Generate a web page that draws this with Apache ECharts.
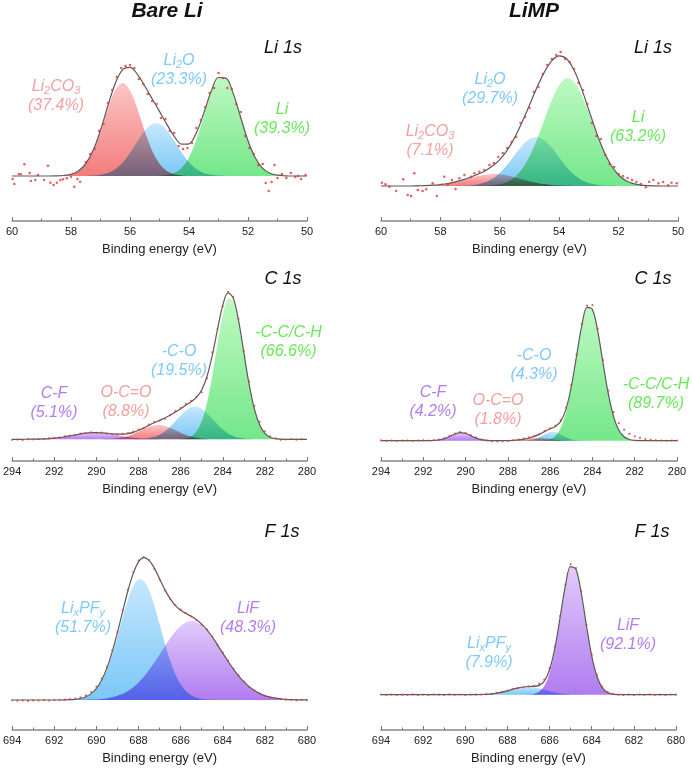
<!DOCTYPE html>
<html><head><meta charset="utf-8">
<script src="https://cdn.jsdelivr.net/npm/echarts@6/dist/echarts.min.js"></script>
<style>html,body{margin:0;padding:0;background:#fff}#c{width:692px;height:769px}</style>
</head><body><div id="c"></div>
<script>
// ---------- energies (binding energy grids, eV) ----------
const liEnergy = [60,59.75,59.5,59.25,59,58.75,58.5,58.25,58,57.75,57.5,57.25,57,56.75,56.5,56.25,56,55.75,55.5,55.25,55,54.75,54.5,54.25,54,53.75,53.5,53.25,53,52.75,52.5,52.25,52,51.75,51.5,51.25,51,50.75,50.5,50.25,50];
const cEnergy = [294,293.75,293.5,293.25,293,292.75,292.5,292.25,292,291.75,291.5,291.25,291,290.75,290.5,290.25,290,289.75,289.5,289.25,289,288.75,288.5,288.25,288,287.75,287.5,287.25,287,286.75,286.5,286.25,286,285.75,285.5,285.25,285,284.75,284.5,284.25,284,283.75,283.5,283.25,283,282.75,282.5,282.25,282,281.75,281.5,281.25,281,280.75,280.5,280.25,280];
const fEnergy = [694,693.75,693.5,693.25,693,692.75,692.5,692.25,692,691.75,691.5,691.25,691,690.75,690.5,690.25,690,689.75,689.5,689.25,689,688.75,688.5,688.25,688,687.75,687.5,687.25,687,686.75,686.5,686.25,686,685.75,685.5,685.25,685,684.75,684.5,684.25,684,683.75,683.5,683.25,683,682.75,682.5,682.25,682,681.75,681.5,681.25,681,680.75,680.5,680.25,680];

// ---------- Bare Li, Li 1s ----------
const bareLi1s_Li2CO3 = [0,0,0,0,0,0,0.1,0.5,1.7,5.0,12.2,25.3,44.7,67.2,85.7,93.0,85.7,67.2,44.7,25.3,12.2,5.0,1.7,0.5,0,0,0,0,0,0,0,0,0,0,0,0,0,0,0,0,0];
const bareLi1s_Li2O = [0,0,0,0,0,0,0,0,0,0,0.1,0.4,1.2,3.0,6.8,13.3,22.9,34.5,45.3,52.0,52.2,45.7,35.0,23.4,13.7,7.0,3.1,1.2,0.4,0.1,0,0,0,0,0,0,0,0,0,0,0];
const bareLi1s_Li = [0,0,0,0,0,0,0,0,0,0,0,0,0,0,0,0,0,0,0,0,0.2,0.9,2.9,8.0,18.5,36.2,59.7,83.2,98.1,97.8,82.4,58.7,35.3,18.0,7.7,2.8,0.9,0.2,0,0,0];
const bareLi1s_Fit = [0,0,0,0,0,0,0.1,0.5,1.7,5.0,12.3,25.7,45.9,70.2,92.5,106.3,108.6,101.7,90.0,77.3,64.6,51.6,39.6,31.9,32.2,43.2,62.8,84.4,98.5,97.9,82.4,58.7,35.3,18.0,7.7,2.8,0.9,0.2,0,0,0];
const bareLi1s_DataE = [59.98,59.92,59.77,59.70,59.58,59.40,59.36,59.21,59.12,58.91,58.78,58.70,58.59,58.48,58.36,58.27,58.14,58.00,57.89,57.78,57.69,57.5,57.35,57.2,57.05,56.9,56.75,56.6,56.45,56.3,56.15,56.0,55.85,55.7,55.55,55.4,55.25,55.1,54.95,54.8,54.65,54.5,54.35,54.2,54.05,53.9,53.75,53.6,53.45,53.3,53.15,53.0,52.85,52.7,52.55,52.4,52.25,52.1,51.95,51.8,51.65,51.5,51.4,51.3,51.2,51.1,51.0,50.85,50.7,50.55,50.4,50.3,50.2,50.05];
const bareLi1s_DataI = [-3,-8,2,1.7,11.7,3,-5,-4,1,-4,10.3,-6.7,-9,-6.7,-4,-3.3,-2.3,-0.7,-10.7,-3,-5.7,14,22,27,45,52,73,86,99,108,110,111,108,97,92,82,75,72,58,57,45,43,30,27,28,33,48,56,69,83,88,103,98,88,87,72,64,40,28,22,11,12,-7,-15,-6,11,-2,2,-2,3,-1,0,-3,1];

// ---------- LiMP, Li 1s ----------
const limpLi1s_Li2CO3 = [0,0,0,0,0,0.2,0.4,0.8,1.5,2.5,4.0,5.9,7.9,9.9,11.3,12.0,11.7,10.5,8.7,6.7,4.7,3.1,1.9,1.0,0.5,0.2,0.1,0,0,0,0,0,0,0,0,0,0,0,0,0,0];
const limpLi1s_Li2O = [0,0,0,0,0,0,0,0,0,0,0.1,0.2,0.6,1.6,3.5,7.2,13.0,21.2,30.9,40.3,46.9,49.0,45.7,38.2,28.5,19.1,11.4,6.1,2.9,1.3,0.5,0.2,0,0,0,0,0,0,0,0,0];
const limpLi1s_Li = [0,0,0,0,0,0,0,0,0,0,0,0,0,0.1,0.2,0.7,1.7,4.2,8.8,17.0,29.4,46.4,66.3,86.0,101.1,107.9,104.3,91.5,72.8,52.6,34.5,20.5,11.0,5.3,2.4,0.9,0.3,0.1,0,0,0];
const limpLi1s_Fit = [0,0,0,0,0,0.2,0.4,0.8,1.5,2.5,4.1,6.1,8.5,11.6,15.0,19.9,26.4,35.9,48.4,64.0,81.0,98.5,113.9,125.2,130.1,127.2,115.8,97.6,75.7,53.9,35.0,20.7,11.0,5.3,2.4,0.9,0.3,0.1,0,0,0];
const limpLi1s_DataE = [59.97,59.85,59.72,59.49,59.25,59.10,58.99,58.88,58.76,58.60,58.48,58.26,58.12,57.87,57.75,57.61,57.49,57.36,57.19,56.97,56.85,56.69,56.52,56.35,56.2,56.05,55.9,55.75,55.6,55.45,55.3,55.15,55.0,54.85,54.7,54.55,54.4,54.25,54.1,53.95,53.8,53.65,53.5,53.35,53.2,53.05,52.9,52.75,52.6,52.45,52.3,52.15,52.0,51.85,51.7,51.55,51.4,51.25,51.08,50.97,50.83,50.66,50.5,50.33,50.22,50.04];
const limpLi1s_DataI = [3.3,1.7,-0.7,-5,6.7,-9,-10,12.7,-4,-5,-3.3,2.7,-10,9.3,1,6,-3,7.7,11,9.3,12.7,14.3,16,21,23,29,33,38,44,49,63,69,78,94,99,112,121,127,131,134,127,124,117,103,96,82,63,50,47,31,22,19,12,10,8,6,4,2,-1.3,4.3,6,2.7,4,0.7,3.3,2.7];

// ---------- Bare Li, C 1s ----------
const bareC1s_CF = [0,0,0,0.1,0.1,0.2,0.4,0.7,1.2,1.8,2.6,3.5,4.4,5.4,6.1,6.6,6.7,6.4,5.8,5.0,4.1,3.1,2.3,1.5,1.0,0.6,0.4,0.2,0.1,0,0,0,0,0,0,0,0,0,0,0,0,0,0,0,0,0,0,0,0,0,0,0,0,0,0,0,0];
const bareC1s_OCO = [0,0,0,0,0,0,0,0,0,0,0,0,0,0,0,0,0,0.1,0.2,0.5,1.1,2.0,3.4,5.4,7.8,10.3,12.5,13.9,14.3,13.4,11.5,9.1,6.6,4.4,2.7,1.5,0.8,0.4,0.1,0,0,0,0,0,0,0,0,0,0,0,0,0,0,0,0,0,0];
const bareC1s_CO = [0,0,0,0,0,0,0,0,0,0,0,0,0,0,0,0,0,0,0,0,0,0,0,0,0.2,0.5,1.2,2.5,4.6,7.9,12.5,18.0,23.7,28.8,32.0,32.6,30.5,26.1,20.5,14.8,9.8,5.9,3.3,1.7,0.8,0.3,0.1,0,0,0,0,0,0,0,0,0,0];
const bareC1s_CC = [0,0,0,0,0,0,0,0,0,0,0,0,0,0,0,0,0,0,0,0,0,0,0,0,0,0,0,0,0,0,0,0.1,0.3,1.0,2.9,7.8,18.0,36.3,63.1,95.1,124.2,140.5,137.7,117.0,86.1,54.8,30.3,14.5,6.0,2.1,0.7,0.2,0,0,0,0,0];
const bareC1s_Fit = [0,0,0,0.1,0.1,0.2,0.4,0.7,1.2,1.8,2.6,3.5,4.4,5.4,6.1,6.6,6.7,6.5,6.0,5.5,5.2,5.1,5.7,6.9,9.0,11.4,14.1,16.6,19.0,21.3,24.0,27.2,30.6,34.2,37.6,41.9,49.3,62.8,83.7,109.9,134.0,146.4,141.0,118.7,86.9,55.1,30.4,14.5,6.0,2.1,0.7,0.2,0,0,0,0,0];
const bareC1s_Data = [-0.5,-0.3,-0.6,0,-0.2,0.3,0.2,0.9,1.5,1.6,2.9,3.8,4.2,5.6,6.3,7.0,6.5,6.8,5.8,5.3,4.9,5.4,6.2,7.6,9.8,11.2,14.8,17.4,18.5,20.5,24.1,28.3,31.2,35.5,38.4,42.5,47.0,61.0,87.0,110.5,133.0,147.5,142.5,120.5,88.5,58.0,33.5,17.5,8.0,3.0,1.0,-0.5,-0.2,0.3,-0.4,0.1,null];

// ---------- LiMP, C 1s ----------
const limpC1s_CF = [0,0,0,0,0,0,0,0,0,0,0.2,0.8,2.1,4.3,6.7,8.0,7.2,5.0,2.6,1.0,0.3,0.1,0,0,0,0,0,0,0,0,0,0,0,0,0,0,0,0,0,0,0,0,0,0,0,0,0,0,0,0,0,0,0,0,0,0,0];
const limpC1s_OCO = [0,0,0,0,0,0,0,0,0,0,0,0,0,0,0,0,0,0,0,0,0,0,0,0,0.1,0.3,0.8,1.5,2.3,2.9,3.0,2.5,1.7,0.9,0.4,0.1,0,0,0,0,0,0,0,0,0,0,0,0,0,0,0,0,0,0,0,0,0];
const limpC1s_CO = [0,0,0,0,0,0,0,0,0,0,0,0,0,0,0,0,0,0,0,0,0,0,0,0,0,0,0,0.1,0.4,1.4,3.5,6.4,8.7,8.6,6.3,3.4,1.3,0.4,0.1,0,0,0,0,0,0,0,0,0,0,0,0,0,0,0,0,0,0];
const limpC1s_CC = [0,0,0,0,0,0,0,0,0,0,0,0,0,0,0,0,0,0,0,0,0,0,0,0,0,0,0,0,0,0,0.1,0.4,1.5,4.8,12.6,28.0,52.8,84.5,115.2,133.3,131.1,109.6,77.9,47.0,24.1,10.5,3.9,1.2,0.3,0.1,0,0,0,0,0,0,0];
const limpC1s_Fit = [0,0,0,0,0,0,0,0,0,0,0.2,0.8,2.1,4.3,6.7,8.0,7.2,5.0,2.6,1.0,0.3,0.1,0,0,0.1,0.3,0.8,1.6,2.7,4.3,6.6,9.3,11.9,14.3,19.3,31.5,54.1,84.9,115.3,133.3,131.1,109.6,77.9,47.0,24.1,10.5,3.9,1.2,0.3,0.1,0,0,0,0,0,0,0];
const limpC1s_Data = [0.3,-0.2,0.1,-0.3,0,0.2,-0.2,0.1,0.3,0.2,0.6,1.2,2.6,4.9,7.2,8.6,7.8,5.6,3.1,1.2,0.1,-0.6,-0.8,-0.6,-0.2,0.4,1.1,2.1,3.3,4.8,6.9,9.8,12.4,15.0,20.5,33.0,55.5,86.0,116.5,135.0,135.5,112.0,80.5,50.0,28.5,17.5,11.0,6.8,4.4,2.8,1.6,0.8,0.3,0.2,-0.1,0.2,0.1];

// ---------- Bare Li, F 1s ----------
const bareF1s_LiPF = [0,0,0,0,0,0,0,0,0,0,0.1,0.3,0.7,1.4,3.1,6.0,11.0,18.9,30.4,45.5,63.4,82.6,100.5,113.9,120.6,119.1,109.7,94.4,75.7,56.6,39.6,25.8,15.7,8.9,4.7,2.3,1.1,0.5,0.2,0.1,0,0,0,0,0,0,0,0,0,0,0,0,0,0,0,0,0];
const bareF1s_LiF = [0,0,0,0,0,0,0,0,0,0,0,0,0,0.1,0.2,0.4,0.6,1.0,1.7,2.7,4.2,6.2,9.0,12.7,17.5,23.2,29.9,37.5,45.6,53.8,61.7,68.6,74.1,77.6,79.0,78.0,74.8,69.6,62.9,55.1,46.9,38.8,31.1,24.2,18.3,13.4,9.6,6.6,4.4,2.9,1.8,1.1,0.7,0.4,0.2,0.1,0.1];
const bareF1s_Fit = [0,0,0,0,0,0,0,0,0,0,0.1,0.3,0.7,1.5,3.3,6.4,11.6,19.9,32.1,48.2,67.6,88.8,109.5,126.6,138.1,142.3,139.6,131.9,121.3,110.4,101.3,94.4,89.8,86.5,83.7,80.3,75.9,70.1,63.1,55.2,46.9,38.8,31.1,24.2,18.3,13.4,9.6,6.6,4.4,2.9,1.8,1.1,0.7,0.4,0.2,0.1,0.1];
const bareF1s_Data = [-0.3,-0.8,-0.5,-0.9,-0.4,-0.6,-0.2,-0.5,0,-0.1,0.4,0.9,1.5,2.6,4.6,8.0,13.5,21.5,33.0,49.5,68.0,90.0,110.5,128.0,139.5,143.0,140.0,131.0,120.5,109.5,101.0,95.0,90.5,87.0,83.5,80.0,75.0,70.5,63.5,55.0,47.5,39.5,31.5,24.5,18.5,13.0,9.5,6.5,4.0,2.5,1.5,1.0,0.3,0.2,-0.3,0.1,-0.2];

// ---------- LiMP, F 1s ----------
const limpF1s_LiPF = [0,0,0,0,0,0,0,0,0,0,0,0,0,0,0,0,0,0,0.1,0.2,0.4,0.8,1.5,2.5,3.9,5.4,6.8,7.7,8.0,7.5,6.4,4.9,3.4,2.2,1.3,0.7,0.3,0.1,0,0,0,0,0,0,0,0,0,0,0,0,0,0,0,0,0,0,0];
const limpF1s_LiF = [0,0,0,0,0,0,0,0,0,0,0,0,0,0,0,0,0,0,0,0,0,0,0,0,0,0,0,0,0.2,0.8,2.9,8.6,21.5,44.3,76.0,108.1,127.8,125.4,102.2,69.2,38.9,18.2,7.0,2.3,0.6,0.1,0,0,0,0,0,0,0,0,0,0,0];
const limpF1s_Fit = [0,0,0,0,0,0,0,0,0,0,0,0,0,0,0,0,0,0,0.1,0.2,0.4,0.8,1.5,2.5,3.9,5.4,6.8,7.7,8.2,8.3,9.3,13.5,24.9,46.5,77.3,108.8,128.1,125.5,102.2,69.2,38.9,18.2,7.0,2.3,0.6,0.1,0,0,0,0,0,0,0,0,0,0,0];
const limpF1s_Data = [0.2,-0.2,0.1,-0.3,0,-0.1,0.3,-0.2,0.1,-0.3,0.2,0,-0.2,0.3,-0.1,0.2,-0.3,0.1,0.3,0.1,0.5,0.9,1.8,2.9,4.2,5.6,6.5,7.4,8.3,8.9,11.0,15.0,26.5,48.0,78.5,110.0,130.5,126.5,103.5,70.0,40.0,19.5,8.0,2.8,0.9,0.2,-0.2,0.1,-0.3,0.2,-0.1,0.3,-0.2,0.1,-0.3,0.2,0];

// ---------- text ----------
const columnTitles = ['Bare Li', 'LiMP'];
const panelTitles = ['Li 1s','Li 1s','C 1s','C 1s','F 1s','F 1s'];
const axisTitle = 'Binding energy (eV)';
const labelText = [
  '{n|Li}{s|2}{n|CO}{s|3}\n{n|(37.4%)}', '{n|Li}{s|2}{n|O}\n{n|(23.3%)}', '{n|Li}\n{n|(39.3%)}',
  '{n|Li}{s|2}{n|CO}{s|3}\n{n|(7.1%)}', '{n|Li}{s|2}{n|O}\n{n|(29.7%)}', '{n|Li}\n{n|(63.2%)}',
  '{n|C-F}\n{n|(5.1%)}', '{n|O-C=O}\n{n|(8.8%)}', '{n|-C-O}\n{n|(19.5%)}', '{n|-C-C/C-H}\n{n|(66.6%)}',
  '{n|C-F}\n{n|(4.2%)}', '{n|O-C=O}\n{n|(1.8%)}', '{n|-C-O}\n{n|(4.3%)}', '{n|-C-C/C-H}\n{n|(89.7%)}',
  '{n|Li}{s|x}{n|PF}{s|y}\n{n|(51.7%)}', '{n|LiF}\n{n|(48.3%)}',
  '{n|Li}{s|x}{n|PF}{s|y}\n{n|(7.9%)}', '{n|LiF}\n{n|(92.1%)}'
];
const labelColorKey = ['red','blue','green','red','blue','green','purple','red','blue','green','purple','red','blue','green','blue','purple','blue','purple'];

// ---------- layout & style (kept apart from data) ----------
const FONT = '"Liberation Sans", Arial, sans-serif';
const FILL = {
  red:    ['#fcc6c6', '#f37c7c'],
  blue:   ['#c6e8fd', '#7ac7f6'],
  green:  ['#bff9c2', '#74e78a'],
  purple: ['#e2cbfb', '#b07cf0']
};
const TEXTC = {red:'#f59e9e', blue:'#7fc9f8', green:'#67e858', purple:'#b27cf0'};
const gridLayout = [
  {left:12,  top:40,  width:295, height:181, min:50,  max:60,  yMin:-45,   yMax:136},
  {left:381, top:40,  width:297, height:181, min:50,  max:60,  yMin:-35,   yMax:146},
  {left:12,  top:280, width:295, height:181, min:280, max:294, yMin:-21.7, yMax:159.3},
  {left:381, top:290, width:296, height:171, min:280, max:294, yMin:-20.3, yMax:150.7},
  {left:12,  top:540, width:295, height:190, min:680, max:694, yMin:-30,   yMax:160},
  {left:381, top:545, width:295, height:185, min:680, max:694, yMin:-35.3, yMax:149.7}
];
const labelPos = [
  [56,96.5],[179,70.5],[282,119.5],
  [430,141],[490,89.5],[638,127],
  [54,403.5],[126,402],[179,361.5],[288.5,342],
  [433,402],[498,410],[534,365.5],[656,394.5],
  [83,618.5],[248,618.5],
  [489,653],[628,635.5]
];
const panelTitlePos = [[283,48],[653,48],[283,279],[653,279],[282,532],[652,532]];
const columnTitlePos = [[167,11],[534,11]];

// ---------- assemble ----------
const panels = [
  {energy: liEnergy, comps: [[bareLi1s_Li2CO3,'red'],[bareLi1s_Li2O,'blue'],[bareLi1s_Li,'green']], fit: bareLi1s_Fit, dataE: bareLi1s_DataE, dataI: bareLi1s_DataI},
  {energy: liEnergy, comps: [[limpLi1s_Li2CO3,'red'],[limpLi1s_Li2O,'blue'],[limpLi1s_Li,'green']], fit: limpLi1s_Fit, dataE: limpLi1s_DataE, dataI: limpLi1s_DataI},
  {energy: cEnergy, comps: [[bareC1s_CF,'purple'],[bareC1s_OCO,'red'],[bareC1s_CO,'blue'],[bareC1s_CC,'green']], fit: bareC1s_Fit, dataE: cEnergy, dataI: bareC1s_Data},
  {energy: cEnergy, comps: [[limpC1s_CF,'purple'],[limpC1s_OCO,'red'],[limpC1s_CO,'blue'],[limpC1s_CC,'green']], fit: limpC1s_Fit, dataE: cEnergy, dataI: limpC1s_Data},
  {energy: fEnergy, comps: [[bareF1s_LiPF,'blue'],[bareF1s_LiF,'purple']], fit: bareF1s_Fit, dataE: fEnergy, dataI: bareF1s_Data},
  {energy: fEnergy, comps: [[limpF1s_LiPF,'blue'],[limpF1s_LiF,'purple']], fit: limpF1s_Fit, dataE: fEnergy, dataI: limpF1s_Data}
];

const grids = [], xAxes = [], yAxes = [], series = [];
panels.forEach((p, k) => {
  const g = gridLayout[k];
  grids.push({left:g.left, top:g.top, width:g.width, height:g.height, containLabel:false});
  xAxes.push({
    gridIndex:k, type:'value', inverse:true, min:g.min, max:g.max, interval:2,
    axisLine:{onZero:false, lineStyle:{color:'#888', width:1.6}},
    axisTick:{inside:true, length:4, lineStyle:{color:'#777', width:1}},
    minorTick:{show:true, splitNumber:2, length:2.5, lineStyle:{color:'#777', width:1}},
    splitLine:{show:false}, minorSplitLine:{show:false},
    axisLabel:{color:'#222', fontSize:11, margin:5, fontFamily:FONT, showMinLabel:true, showMaxLabel:true},
    name:axisTitle, nameLocation:'middle', nameGap:22,
    nameTextStyle:{color:'#222', fontSize:13, fontFamily:FONT}
  });
  yAxes.push({gridIndex:k, type:'value', min:g.yMin, max:g.yMax, show:false, splitLine:{show:false}});
  p.comps.forEach(([vals, col]) => {
    series.push({
      type:'custom', xAxisIndex:k, yAxisIndex:k, silent:true, z:1,
      data:[[p.energy[0], 0]],
      renderItem:(params, api) => {
        const pts = p.energy.map((e, i) => api.coord([e, vals[i]]));
        return {
          type:'polygon',
          shape:{points:pts, smooth:0.3},
          style:{
            fill:new echarts.graphic.LinearGradient(0,0,0,1,[{offset:0,color:FILL[col][0]},{offset:1,color:FILL[col][1]}]),
            blend:'multiply'
          }
        };
      }
    });
  });
  series.push({
    type:'line', xAxisIndex:k, yAxisIndex:k, silent:true, z:3,
    data:p.energy.map((e, i) => [e, p.fit[i]]),
    smooth:0.35, symbol:'none', lineStyle:{color:'#5a5a5a', width:1.2}
  });
  series.push({
    type:'scatter', xAxisIndex:k, yAxisIndex:k, silent:true, z:4,
    data:p.dataE.map((e, i) => [e, p.dataI[i]]).filter(d => d[1] !== null && d[1] !== undefined),
    symbolSize: k < 2 ? 2.6 : 2.2, itemStyle:{color:'#e23a3a'}
  });
});

const graphics = [];
columnTitles.forEach((t, i) => graphics.push({
  type:'text', x:columnTitlePos[i][0], y:columnTitlePos[i][1], silent:true,
  style:{text:t, font:'italic bold 21px ' + FONT, fill:'#111', align:'center', verticalAlign:'middle', textAlign:'center', textVerticalAlign:'middle'}
}));
panelTitles.forEach((t, i) => graphics.push({
  type:'text', x:panelTitlePos[i][0], y:panelTitlePos[i][1], silent:true,
  style:{text:t, font:'italic 18px ' + FONT, fill:'#111', align:'center', verticalAlign:'middle', textAlign:'center', textVerticalAlign:'middle'}
}));
labelText.forEach((t, i) => {
  const c = TEXTC[labelColorKey[i]];
  graphics.push({
    type:'text', x:labelPos[i][0], y:labelPos[i][1], silent:true,
    style:{
      text:t, fill:c, align:'center', verticalAlign:'middle', textAlign:'center', textVerticalAlign:'middle',
      fontSize:16, fontStyle:'italic', fontFamily:FONT,
      rich:{
        n:{fontSize:16, fontStyle:'italic', fontFamily:FONT, lineHeight:19, fill:c},
        s:{fontSize:11, fontStyle:'italic', fontFamily:FONT, lineHeight:8, verticalAlign:'bottom', fill:c}
      }
    }
  });
});

const chart = echarts.init(document.getElementById('c'), null, {renderer:'canvas'});
chart.setOption({
  backgroundColor:'#ffffff',
  animation:false,
  grid:grids, xAxis:xAxes, yAxis:yAxes, series:series, graphic:graphics
});

// make overlapping component fills darken each other (multiply), as in the original figure
function applyMultiply() {
  const zr = chart.getZr();
  zr.storage.getDisplayList(true).forEach(el => {
    if (el.type === 'polygon' && el.style && el.style.fill && el.style.fill.colorStops) {
      el.style.blend = 'multiply';
      el.markRedraw();
    }
  });
  zr.refreshImmediately();
}
applyMultiply();
chart.on('finished', applyMultiply);
</script>
</body></html>
